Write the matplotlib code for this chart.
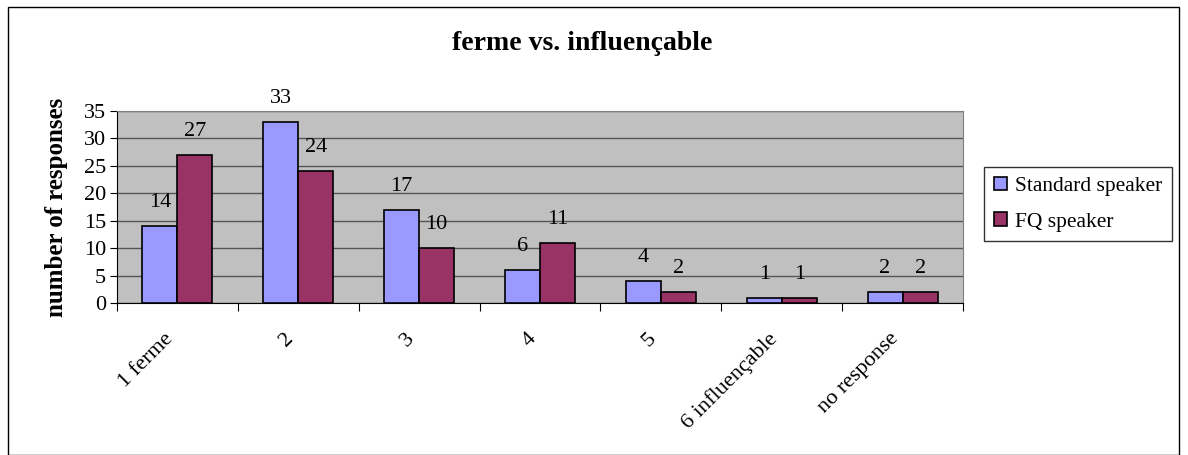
import numpy as np
import matplotlib.pyplot as plt
import matplotlib.transforms as mtransforms
from matplotlib.patches import Rectangle

categories = ['1 ferme', '2', '3', '4', '5', '6 influençable', 'no response']
standard = [14, 33, 17, 6, 4, 1, 2]
fq = [27, 24, 10, 11, 2, 1, 2]
series_names = ['Standard speaker', 'FQ speaker']

plt.rcParams['font.family'] = ['Liberation Serif', 'DejaVu Serif']

fig = plt.figure(figsize=(11.88, 4.55), dpi=100)
fig.patches.append(Rectangle((8 / 1188, 0), 1171 / 1188, 1 - 7 / 455, transform=fig.transFigure,
                             fill=False, edgecolor='black', linewidth=1))

ax = fig.add_axes([117 / 1188, 1 - 303 / 455, 846 / 1188, 192 / 455])
ax.set_facecolor('#C0C0C0')

x = np.arange(len(categories))
w = 0.29
b1 = ax.bar(x - w / 2, standard, w, color='#9999FF', edgecolor='black', linewidth=1.2,
            label=series_names[0], zorder=3)
b2 = ax.bar(x + w / 2, fq, w, color='#993366', edgecolor='black', linewidth=1.2,
            label=series_names[1], zorder=3)

for bars in (b1, b2):
    for r in bars:
        ax.annotate(str(int(r.get_height())), (r.get_x() + r.get_width() / 2, r.get_height()),
                    xytext=(0, 10), textcoords='offset points', ha='center', va='bottom',
                    fontsize=16, annotation_clip=False)

ax.set_xlim(-0.5, len(categories) - 0.5)
ax.set_ylim(0, 35)
ax.set_yticks(range(0, 36, 5))
ax.yaxis.grid(True, color='#555555', linewidth=1, zorder=0)
ax.set_axisbelow(True)

ax.set_xticks(np.arange(-0.5, len(categories), 1))
ax.set_xticklabels([])
ax.set_xticks(x, minor=True)
ax.set_xticklabels(categories, minor=True, rotation=45, ha='right', rotation_mode='anchor',
                   fontsize=16)
ax.tick_params(axis='x', which='minor', length=0, pad=19)
ax.tick_params(axis='x', which='major', length=6, direction='out')
ax.tick_params(axis='y', labelsize=16, length=5, pad=3)
shift = mtransforms.ScaledTranslation(-10 / 72, 0, fig.dpi_scale_trans)
for lbl in ax.get_xticklabels(minor=True):
    lbl.set_transform(lbl.get_transform() + shift)

for s in ['top', 'right']:
    ax.spines[s].set_color('#808080')

ax.set_ylabel('number of responses', fontsize=18, fontweight='bold', labelpad=11)

fig.text(0.49, 1 - 43 / 455, 'ferme vs. influençable', ha='center', va='center',
         fontsize=20, fontweight='bold')

leg = ax.legend(loc='upper left', bbox_to_anchor=(984 / 1188, 1 - 167 / 455),
                bbox_transform=fig.transFigure, fontsize=15.5, frameon=True, fancybox=False,
                edgecolor='black', handlelength=0.6, handleheight=0.6, handletextpad=0.4,
                borderaxespad=0, borderpad=0.45, labelspacing=0.75)
leg.get_frame().set_linewidth(1)

fig.savefig('out.png', dpi=100)
